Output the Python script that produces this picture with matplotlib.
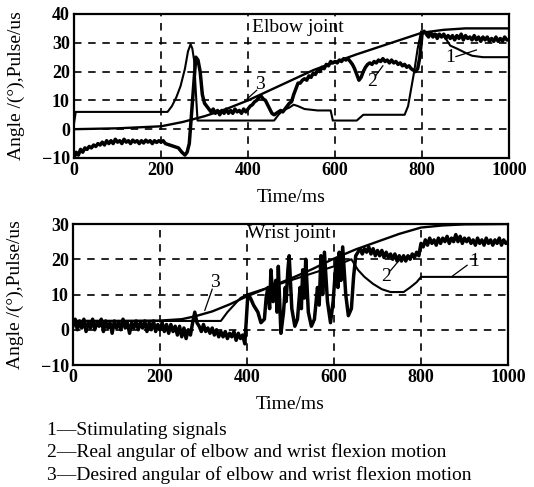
import matplotlib
matplotlib.use("Agg")
import matplotlib.pyplot as plt

plt.rcParams['font.family'] = ['Liberation Serif', 'DejaVu Serif']

# ---- elbow joint ----
elbow_stim_t = [0, 4, 215, 225, 235, 245, 255, 262, 268, 272, 276, 280, 284, 460, 470, 480, 495, 505,
                515, 530, 560, 590, 595, 650, 665, 760, 768, 775, 782, 790, 798, 805, 830, 850, 865,
                880, 900, 915, 940, 1000]
elbow_stim_v = [2, 6, 6, 8, 11, 15, 21, 27, 29.5, 28, 24, 13, 3, 3, 5, 6.5, 7.5, 8.5,
                8, 7, 6.5, 6.5, 3, 3, 5, 5, 8, 14, 20, 28, 34, 33.5, 33, 32.5, 29,
                28, 26.5, 25.5, 25, 25]

elbow_real_t = [0, 5, 10, 15, 20, 25, 30, 35, 40, 45, 50, 55, 60, 65, 70, 75, 80, 85, 90, 95,
                100, 105, 110, 115, 120, 125, 130, 135, 140, 145, 150, 155, 160, 165, 170, 175, 180, 185, 190, 195,
                200, 205, 210, 220, 230, 240, 248, 255, 260, 265, 270, 275, 280, 285, 290, 295,
                300, 305, 310, 315, 320, 325, 330, 335, 340, 345, 350, 355, 360, 365, 370, 375, 380, 385, 390, 395,
                400, 405, 410, 415, 420, 425, 430, 435, 440, 445, 450, 455, 460, 465, 470, 475, 480, 485, 490, 495,
                500, 505, 510, 515, 520, 525, 530, 535, 540, 545, 550, 555, 560, 565, 570, 575, 580, 585, 590, 595,
                600, 605, 610, 615, 620, 625, 630, 635, 640, 645, 650, 655, 660, 665, 670, 675, 680, 685, 690, 695,
                700, 705, 710, 715, 720, 725, 730, 735, 740, 745, 750, 755, 760, 765, 770, 775, 780, 785, 790, 795,
                800, 805, 810, 815, 820, 825, 830, 835, 840, 845, 850, 855, 860, 865, 870, 875, 880, 885, 890, 895,
                900, 905, 910, 915, 920, 925, 930, 935, 940, 945, 950, 955, 960, 965, 970, 975, 980, 985, 990, 995, 1000]
elbow_real_v = [-10, -8, -9, -7, -8, -6.5, -7, -6, -6.5, -5.5, -6, -5, -5.5, -4.5, -5.5, -4, -5, -4, -5, -3.5,
                -4.5, -4, -5, -3.5, -4.5, -4, -5, -3.8, -4.5, -4, -5, -4, -4.8, -3.8, -4.5, -4, -5, -4, -4.6, -4,
                -4.5, -4, -5, -5.5, -6, -6.5, -8, -9, -8, -5, 5, 15, 25, 24, 20, 12,
                9, 8, 7, 6, 7, 5.5, 6.5, 5, 6.5, 5.5, 7, 5.5, 6.5, 5.5, 7, 6, 6.5, 5.5, 7, 6,
                7, 8, 8.5, 9.5, 10, 11, 11.5, 10.5, 10, 8.5, 7, 5.5, 5, 5.5, 6, 6.5, 6, 7, 8, 9,
                9.5, 12, 14, 16, 16, 17, 17.5, 17, 18.5, 18, 19.5, 19, 20.5, 20, 21.5, 21, 22.5, 22, 23.5, 23,
                23.5, 23, 24, 23.5, 24.5, 24, 24.5, 23.5, 22.5, 21, 19, 17, 18, 20, 21.5, 22.5, 23, 22.5, 23.5, 23,
                24, 23.5, 24.5, 23.5, 24, 23, 24, 23, 23.5, 22.5, 23, 22, 22.5, 21.5, 22, 21, 20.5, 20, 21, 25,
                33, 34, 33, 32, 33.5, 32, 33, 31.5, 33, 32, 33, 31.5, 32.5, 31.5, 32.5, 31, 32.5, 31.5, 33, 31,
                32.5, 31.5, 32, 31, 32.5, 31, 32, 30.5, 32, 31, 32, 30.5, 31.5, 30.5, 32, 30.5, 31.5, 30.5, 32, 31, 31]

elbow_des_t = [0, 100, 200, 250, 300, 350, 400, 450, 500, 550, 600, 650, 700, 750, 800, 850, 900, 1000]
elbow_des_v = [0, 0.3, 1, 2.5, 4.5, 7, 10, 13.5, 17, 20.5, 23.3, 26, 28.5, 31, 33.5, 34.5, 35, 35]

# ---- wrist joint ----
wrist_stim_t = [0, 340, 355, 370, 385, 400, 450, 500, 550, 600, 640, 655, 670, 690, 710, 730, 760,
                775, 790, 800, 1000]
wrist_stim_v = [2.5, 2.5, 5, 7, 9, 10, 12, 14, 16, 18, 20, 17, 15, 13, 11.5, 10.7, 10.7,
                12, 13.5, 15, 15]

wrist_real_t = [0, 5, 10, 15, 20, 25, 30, 35, 40, 45, 50, 55, 60, 65, 70, 75, 80, 85, 90, 95,
                100, 105, 110, 115, 120, 125, 130, 135, 140, 145, 150, 155, 160, 165, 170, 175, 180, 185, 190, 195,
                200, 205, 210, 215, 220, 225, 230, 235, 240, 245, 250, 255, 260, 265, 270, 275, 280, 285, 290, 295,
                300, 305, 310, 315, 320, 325, 330, 335, 340, 345, 350, 355, 360, 365, 370, 375, 380, 385, 390, 395,
                398, 402, 408, 415, 425, 432, 440, 444, 448, 452, 455, 460, 466, 469, 472, 478, 484, 488, 490, 494, 497,
                503, 510, 516, 522, 525, 528, 532, 535, 541, 548, 555, 562, 566, 570, 574, 578, 585, 592, 598, 605,
                609, 612, 616, 620, 627, 633, 640, 645,
                650, 655, 660, 665, 670, 675, 680, 685, 690, 695, 700, 705, 710, 715, 720, 725, 730, 735, 740, 745,
                750, 755, 760, 765, 770, 775, 780, 785, 790, 795, 800, 805, 810, 815, 820, 825, 830, 835, 840, 845,
                850, 855, 860, 865, 870, 875, 880, 885, 890, 895, 900, 905, 910, 915, 920, 925, 930, 935, 940, 945,
                950, 955, 960, 965, 970, 975, 980, 985, 990, 995, 1000]
wrist_real_v = [1, 3, 0, 2.5, 0.5, 3, -0.5, 2, 0.5, 3, 0, 2, 1, 3, -0.5, 2.5, 0.5, 2, -1, 2.5,
                0.5, 2, 0, 3, 0.5, 2, -1, 2, 0.5, 2.5, 0, 2, 0.5, 2.5, -0.5, 2, 0, 2.5, -0.5, 1.5,
                0, 2, -0.5, 1.5, -1, 1.5, -0.5, 1, -1.5, 1, -2, 0.5, -2.5, 0, -1.5, 2, 5, 2, 1, -0.5,
                1.5, -0.5, 0.5, -1, 0.5, -1.5, 0, -2, -0.5, -2, -0.5, -2.5, -1, -2, -0.5, -3, -1, -2.5, -1.5, -4,
                2, 10, 9, 7, 5, 2, 3, 9, 12, 6, 17, 8, 14, 5, 18, -1, 5, 12, 8, 17, 21,
                6, 1, 3, 12, 6, 17, 9, 20, 5, 1, 3, 12, 7, 21, 10, 22, 8, 2, 8, 20,
                12, 22, 14, 23.5, 10, 4, 6, 15,
                21, 22, 23, 21.5, 23, 22, 23.5, 21.5, 23, 21, 22.5, 21, 22.5, 20.5, 22, 20.5, 21.5, 20, 21.5, 19.5,
                21, 19.5, 21, 19.5, 21, 20, 21.5, 20.5, 22, 21, 24.5, 23.5, 25.5, 24, 26, 24.5, 25.5, 24, 26, 24.5,
                26, 25, 26.5, 24.5, 26, 25, 27, 25, 26.5, 24.5, 26, 25, 26, 24.5, 25.5, 24, 26, 24.5, 25.5, 24,
                26, 24.5, 25.5, 24, 25.5, 24.5, 26, 24, 25.5, 24.5, 25]

wrist_des_t = [0, 100, 200, 250, 280, 320, 360, 400, 450, 500, 550, 600, 650, 700, 750, 800, 850, 900, 1000]
wrist_des_v = [2.5, 2.5, 2.6, 3, 3.8, 5.2, 7.2, 9.5, 12, 14.5, 17.2, 20.2, 22.8, 25, 27.2, 29, 29.6, 29.9, 30]

legend_lines = ["1\u2014Stimulating signals",
                "2\u2014Real angular of elbow and wrist flexion motion",
                "3\u2014Desired angular of elbow and wrist flexion motion"]

fig = plt.figure(figsize=(5.34, 4.87), dpi=100)
ax1 = fig.add_axes([0.1386, 0.6756, 0.8146, 0.2957])
ax2 = fig.add_axes([0.1367, 0.2505, 0.8146, 0.2895])

TXT = 14


def style(ax, ylim, yticks, grid_y):
    ax.set_xlim(0, 1000)
    ax.set_ylim(*ylim)
    ax.set_xticks([0, 200, 400, 600, 800, 1000])
    ax.set_yticks(yticks)
    ax.tick_params(length=0, labelsize=13, pad=3)
    for lab in ax.get_xticklabels() + ax.get_yticklabels():
        lab.set_fontweight('bold')
    for g in [200, 400, 600, 800]:
        ax.axvline(g, color='k', lw=1.2, ls=(0, (4.5, 4)), zorder=1)
    for g in grid_y:
        ax.axhline(g, color='k', lw=1.2, ls=(0, (4.5, 4)), zorder=1)
    for s in ax.spines.values():
        s.set_linewidth(1.6)
    ax.set_xlabel("Time/ms", fontsize=TXT, labelpad=7)
    ax.set_ylabel("Angle /(\u00b0),Pulse/us", fontsize=TXT)
    ax.yaxis.set_label_coords(-0.112, 0.5)


style(ax1, (-10, 40), [-10, 0, 10, 20, 30, 40], [0, 10, 20, 30])
ax1.plot(elbow_des_t, elbow_des_v, color='k', lw=1.7, zorder=3)
ax1.plot(elbow_stim_t, elbow_stim_v, color='k', lw=1.5, zorder=3)
ax1.plot(elbow_real_t, elbow_real_v, color='k', lw=2.5, zorder=4)
ax1.text(410, 35.2, "Elbow joint", fontsize=TXT, va='center', ha='left')
ax1.text(428, 15.5, "3", fontsize=TXT, va='center', ha='center')
ax1.plot([420, 398], [13.5, 10.5], color='k', lw=0.9)
ax1.text(685, 16.5, "2", fontsize=TXT, va='center', ha='center')
ax1.plot([693, 710], [18.5, 22], color='k', lw=0.9)
ax1.text(864, 25, "1", fontsize=TXT, va='center', ha='center')
ax1.plot([878, 925], [25.2, 27.5], color='k', lw=0.9)

style(ax2, (-10, 30), [-10, 0, 10, 20, 30], [0, 10, 20])
ax2.plot(wrist_des_t, wrist_des_v, color='k', lw=1.7, zorder=3)
ax2.plot(wrist_stim_t, wrist_stim_v, color='k', lw=1.5, zorder=3)
ax2.plot(wrist_real_t, wrist_real_v, color='k', lw=2.5, zorder=4)
ax2.text(400, 27.3, "Wrist joint", fontsize=TXT, va='center', ha='left')
ax2.text(326, 13.5, "3", fontsize=TXT, va='center', ha='center')
ax2.plot([320, 303], [11.5, 5.5], color='k', lw=0.9)
ax2.text(720, 15, "2", fontsize=TXT, va='center', ha='center')
ax2.plot([730, 752], [16.8, 20], color='k', lw=0.9)
ax2.text(922, 19.3, "1", fontsize=TXT, va='center', ha='center')
ax2.plot([906, 873], [18.3, 15.3], color='k', lw=0.9)

for i, line in enumerate(legend_lines):
    fig.text(0.088, 0.117 - i * 0.046, line, fontsize=TXT, va='center', ha='left')

fig.savefig("out.png", dpi=100)
